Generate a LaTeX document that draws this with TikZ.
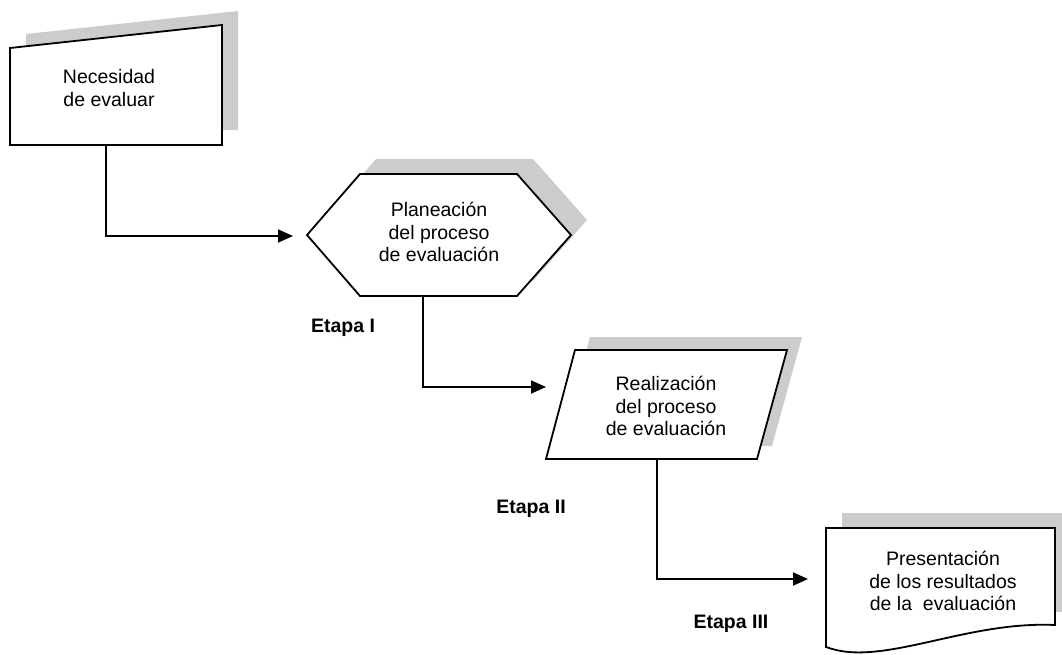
\documentclass[tikz,border=0pt]{standalone}
\usepackage{fontspec}
\setmainfont{Liberation Sans}
\usetikzlibrary{arrows.meta}
\begin{document}
\begin{tikzpicture}[x=1pt,y=-1pt,
  shape line/.style={draw=black,line width=1.8pt,fill=white,line join=miter},
  shadow fill/.style={fill=black!20},
  label text/.style={font=\fontsize{19.5}{22.5}\selectfont,align=center,inner sep=0pt},
  stage/.style={font=\fontsize{19.5}{22}\selectfont\bfseries,inner sep=0pt},
  link/.style={draw,line width=1.8pt,-{Triangle[length=15pt,width=13pt]}}]
\useasboundingbox (0,0) rectangle (1062,654);

% manual input: need to evaluate
\fill[shadow fill] (26,34) -- (238,11) -- (238,130) -- (26,130) -- cycle;
\draw[shape line] (10,48) -- (222,25) -- (222,145) -- (10,145) -- cycle;
\node[label text] (need) at (109,88) {Necesidad\\de evaluar};
\coordinate (need-bottom) at (106,145);

% hexagon: planning
\fill[shadow fill] (323,220) -- (376,159) -- (533,159) -- (587,220) -- (533,281) -- (376,281) -- cycle;
\draw[shape line] (307,235) -- (360,174) -- (517,174) -- (571,235) -- (517,296) -- (360,296) -- cycle;
\node[label text] (plan) at (439,232) {Planeación\\del proceso\\de evaluación};
\coordinate (plan-in) at (293,236);
\coordinate (plan-bottom) at (423,296);

% parallelogram: carrying out
\fill[shadow fill] (561,446) -- (772,446) -- (802,337) -- (590,337) -- cycle;
\draw[shape line] (546,459) -- (757,459) -- (787,350) -- (575,350) -- cycle;
\node[label text] (real) at (666,406) {Realización\\del proceso\\de evaluación};
\coordinate (real-in) at (546,387);
\coordinate (real-bottom) at (657,459);

% document: presentation of results
\fill[shadow fill] (842,513) rectangle (1075,612);
\draw[shape line] (826,528) -- (1055,528) -- (1055,625)
  .. controls (990,622) and (930,645) .. (880,651)
  .. controls (855,654) and (840,652) .. (826,647) -- cycle;
\node[label text] (pres) at (943,581) {Presentación\\de los resultados\\de la~ evaluación};
\coordinate (pres-in) at (808,579);

% connectors
\draw[link] (need-bottom) |- (plan-in);
\draw[link] (plan-bottom) |- (real-in);
\draw[link] (real-bottom) |- (pres-in);

% stage labels
\node[stage] (etapa1) at (343,328) {Etapa I};
\node[stage] (etapa2) at (531,509) {Etapa II};
\node[stage] (etapa3) at (731,624) {Etapa III};
\end{tikzpicture}
\end{document}
